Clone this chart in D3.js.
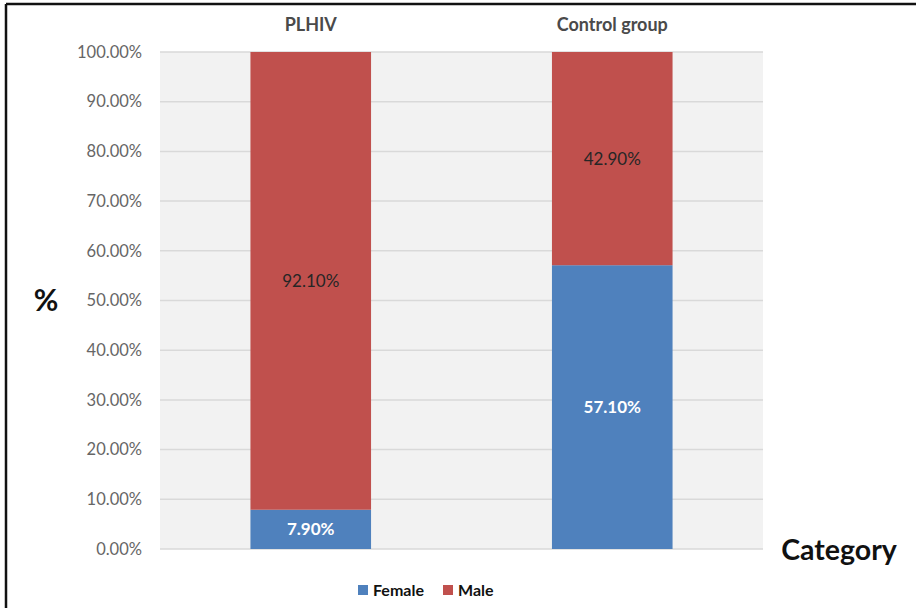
<!DOCTYPE html>
<html>
<head>
<meta charset="utf-8">
<script src="https://cdn.jsdelivr.net/npm/d3@7"></script>
<style>
  html, body { margin: 0; padding: 0; background: #ffffff; }
  svg { display: block; }
  text { font-family: Lato, "Open Sans", sans-serif; }
</style>
</head>
<body>
<svg id="chart" width="916" height="608"></svg>
<script>
// Share of each sex within the two study groups (percent)
const categories = ["PLHIV", "Control group"];
const seriesNames = ["Female", "Male"];
const female = [7.9, 57.1];
const male = [92.1, 42.9];
const yTicks = [0, 10, 20, 30, 40, 50, 60, 70, 80, 90, 100];
const colors = ["#4f81bd", "#c0504d"];

const svg = d3.select("#chart");

// outer frame (top and left edges visible)
svg.append("line").attr("x1", 6).attr("x2", 916).attr("y1", 4).attr("y2", 4)
  .attr("stroke", "#111").attr("stroke-width", 2.5);
svg.append("line").attr("x1", 6).attr("x2", 6).attr("y1", 4).attr("y2", 608)
  .attr("stroke", "#111").attr("stroke-width", 2.5);

const plot = { left: 160, right: 763, top: 52, bottom: 549 };

const x = d3.scaleBand().domain(categories)
  .range([plot.left, plot.right]).paddingInner(0.6).paddingOuter(0.3);
const y = d3.scaleLinear().domain([0, 100]).range([plot.bottom, plot.top]);

// plot background
svg.append("rect")
  .attr("x", plot.left).attr("y", plot.top)
  .attr("width", plot.right - plot.left).attr("height", plot.bottom - plot.top)
  .attr("fill", "#f2f2f2");

// gridlines
svg.append("g").selectAll("line").data(yTicks).join("line")
  .attr("x1", plot.left).attr("x2", plot.right)
  .attr("y1", d => y(d)).attr("y2", d => y(d))
  .attr("stroke", "#d9d9d9").attr("stroke-width", 1.5);

// y axis labels
const yAxis = d3.axisLeft(y).tickValues(yTicks)
  .tickFormat(d => d.toFixed(2) + "%").tickSize(0).tickPadding(18);
const yg = svg.append("g").attr("transform", `translate(${plot.left},0)`).call(yAxis);
yg.select(".domain").remove();
yg.selectAll("text").attr("font-size", 16.5).attr("fill", "#666666")
  .attr("font-family", "Lato, 'Open Sans', sans-serif");

// stacked series
const rows = categories.map((c, i) => ({ category: c, Female: female[i], Male: male[i] }));
const stacked = d3.stack().keys(seriesNames)(rows);

const layers = svg.append("g").selectAll("g").data(stacked).join("g")
  .attr("fill", (d, i) => colors[i]);
layers.selectAll("rect").data(d => d).join("rect")
  .attr("x", d => x(d.data.category))
  .attr("width", x.bandwidth())
  .attr("y", d => y(d[1]))
  .attr("height", d => y(d[0]) - y(d[1]));

// value labels centred in each segment
stacked.forEach((layer, li) => {
  svg.append("g").selectAll("text").data(layer).join("text")
    .attr("x", d => x(d.data.category) + x.bandwidth() / 2)
    .attr("y", d => y((d[0] + d[1]) / 2))
    .attr("dy", "0.36em")
    .attr("text-anchor", "middle")
    .attr("font-size", 17)
    .attr("font-weight", li === 0 ? 700 : 400)
    .attr("fill", li === 0 ? "#ffffff" : "#262626")
    .text(d => (d[1] - d[0]).toFixed(2) + "%");
});

// category labels above the bars
const xAxis = d3.axisTop(x).tickSize(0).tickPadding(0);
const xg = svg.append("g").attr("transform", "translate(0,31)").call(xAxis);
xg.select(".domain").remove();
xg.selectAll("text").attr("font-size", 18).attr("font-weight", 700)
  .attr("fill", "#4a4a4a").attr("dy", 0)
  .attr("font-family", "Lato, 'Open Sans', sans-serif");

// axis titles
svg.append("text").attr("x", 46).attr("y", 311).attr("text-anchor", "middle")
  .attr("font-size", 30).attr("font-weight", 700).attr("fill", "#111").text("%");
svg.append("text").attr("x", 839).attr("y", 560).attr("text-anchor", "middle")
  .attr("font-size", 28.5).attr("font-weight", 700).attr("fill", "#111").text("Category");

// legend
const legend = svg.append("g").attr("transform", "translate(358,590)");
const legendX = [0, 85];
seriesNames.forEach((name, i) => {
  const g = legend.append("g").attr("transform", `translate(${legendX[i]},0)`);
  g.append("rect").attr("x", 0).attr("y", -5).attr("width", 10).attr("height", 10)
    .attr("fill", colors[i]);
  g.append("text").attr("x", 15).attr("y", 0).attr("dy", "0.36em")
    .attr("font-size", 16).attr("font-weight", 700).attr("fill", "#111").text(name);
});
</script>
</body>
</html>
